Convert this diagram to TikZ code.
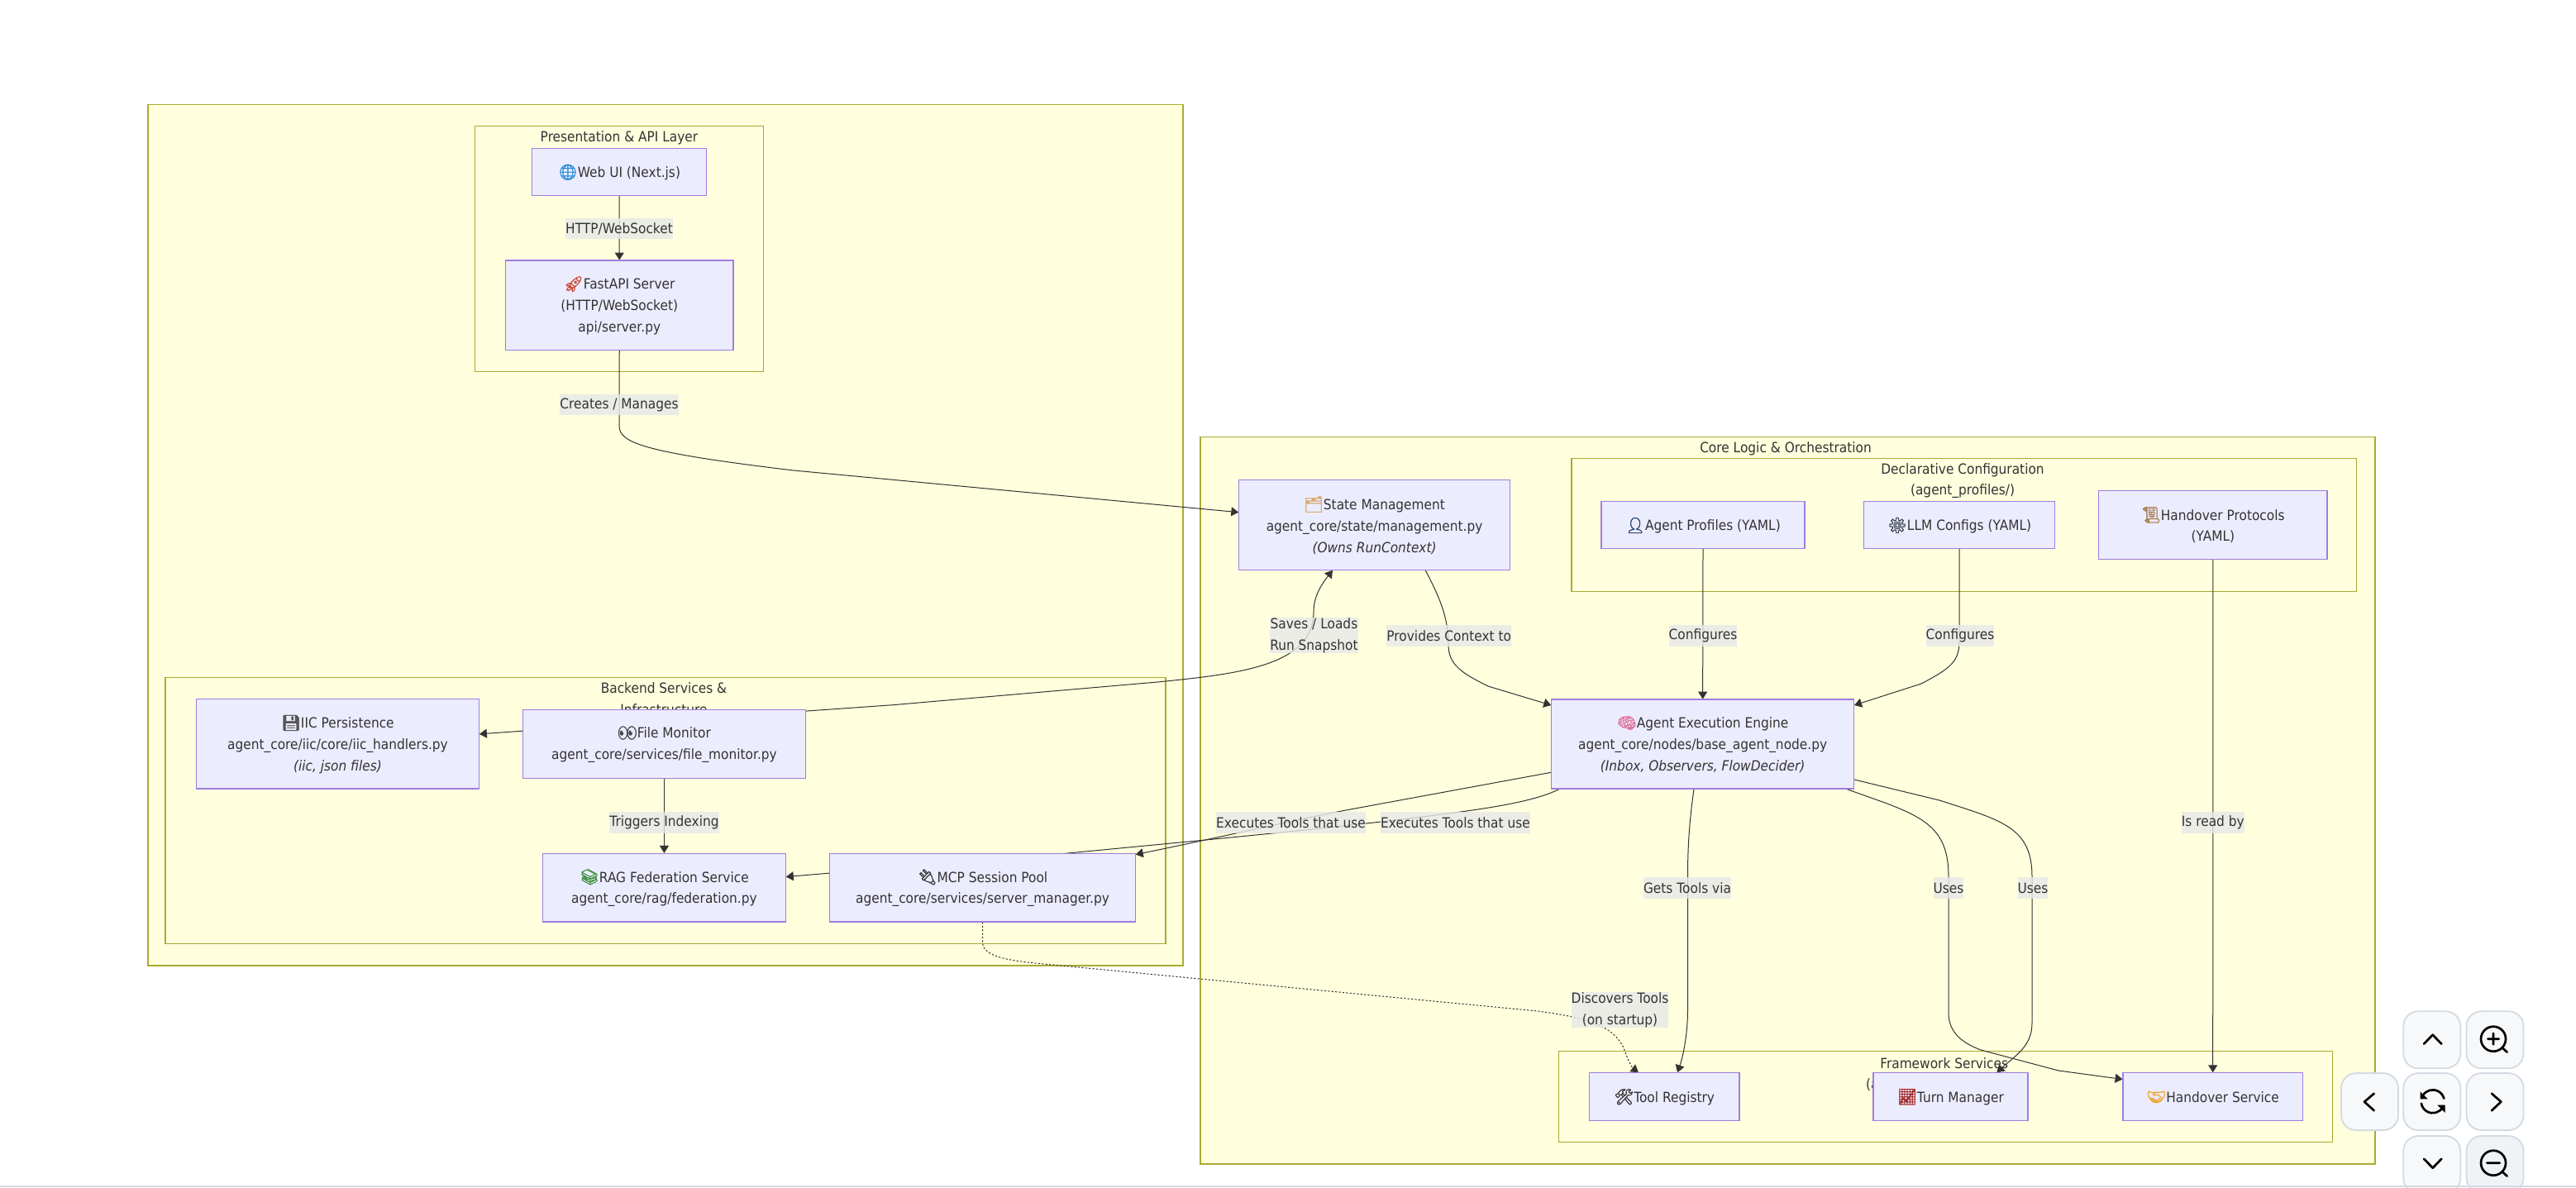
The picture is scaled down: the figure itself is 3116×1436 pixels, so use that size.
\documentclass[tikz,border=0pt]{standalone}
\usepackage{fontspec}
\setmainfont{DejaVu Sans}[FakeStretch=0.905]
\newfontfamily\emofont{Noto Emoji}[Scale=1.1,FakeBold=1.5]
\usetikzlibrary{arrows.meta,calc}
\definecolor{nodefill}{HTML}{ECECFF}
\definecolor{nodeline}{HTML}{9370DB}
\definecolor{groupfill}{HTML}{FFFFDE}
\definecolor{groupline}{HTML}{AAAA33}
\definecolor{ink}{HTML}{333333}
\definecolor{lblfill}{HTML}{E8E8E8}
\definecolor{btnfill}{HTML}{F7F8FA}
\definecolor{btnfilltwo}{HTML}{F0F3F6}
\definecolor{btnline}{HTML}{D3DAE2}
\newcommand{\emj}[2]{{\emofont\color[HTML]{#1}#2}}
\newcommand{\rectnode}[7]{%
  \pgfmathsetmacro\bxcx{(#3+#5)/2}\pgfmathsetmacro\bxcy{(#4+#6)/2}%
  \pgfmathsetmacro\bxw{(#5-#3)*0.5}\pgfmathsetmacro\bxh{(#6-#4)*0.5}%
  \pgfmathsetmacro\bxty{\bxcy+0.5}%
  \node[#1,minimum width=\bxw pt,minimum height=\bxh pt] (#2) at (\bxcx,\bxcy) {};
  \node (#2t) at (\bxcx,\bxty) {#7};}
\tikzset{
  x=0.5pt,y=-0.5pt,
  every node/.style={text=ink,font=\fontsize{8.5}{12.85}\selectfont,align=center,inner sep=0pt},
  groupbox/.style={draw=groupline,fill=groupfill,line width=.6pt},
  grouptitle/.style={},
  flowbox/.style={draw=nodeline!90!white,fill=nodefill,line width=.6pt},
  conn/.style={draw=ink,line width=.5pt,-{Triangle[length=4.5pt,width=5.5pt]}},
  dotconn/.style={conn,dash pattern=on 1.1pt off 1.1pt},
  lbl/.style={fill=lblfill,fill opacity=.8,text opacity=1,minimum height=12.6pt},
  btn/.style={draw=btnline,fill=btnfill,line width=.9pt,rounded corners=9pt,minimum width=34.5pt,minimum height=34.5pt},
  icon/.style={draw=black,line width=1.35pt,line cap=round,line join=round},
}
\begin{document}
\begin{tikzpicture}
\useasboundingbox (0,0) rectangle (3116,1436);
\fill[white] (0,0) rectangle (3116,1436);
% groups
\rectnode{groupbox}{gouter}{179}{126.3}{1431}{1168}{}
\rectnode{groupbox}{gcore}{1452}{528.3}{2873}{1408}{}
\rectnode{groupbox}{gpres}{574.3}{152.7}{923.8}{449.7}{}
\rectnode{groupbox}{gback}{200}{819.3}{1410}{1141.3}{}
\rectnode{groupbox}{gdecl}{1901}{554.3}{2850.6}{715.3}{}
\rectnode{groupbox}{gfram}{1885.5}{1271.7}{2821.7}{1381.7}{}
\node[grouptitle] (tpres) at (749,166.5) {Presentation \& API Layer};
\node[grouptitle] (tback) at (803,845) {Backend Services \&\\Infrastructure};
\node[grouptitle] (tcore) at (2160,542.3) {Core Logic \& Orchestration};
\node[grouptitle] (tdecl) at (2374,581.5) {Declarative Configuration\\(agent\_profiles/)};
\node[grouptitle] (tfram) at (2351.7,1286) {Framework Services};
\node[grouptitle,anchor=west] (tframb) at (2256.7,1312) {(a};
% nodes are named first on an invisible pass, so connectors lie under the boxes
\begin{scope}[every node/.append style={draw=none,fill=none,text opacity=0}]
\rectnode{}{ui}{643.7}{179.3}{854.4}{236.7}{}
\rectnode{}{fast}{611.5}{315}{887}{423.3}{}
\rectnode{}{iic}{237.4}{845.7}{579.5}{954}{}
\rectnode{}{fm}{632.4}{858.7}{974.5}{941.3}{}
\rectnode{}{rag}{656.5}{1032.3}{950.4}{1115}{}
\rectnode{}{mcp}{1003.8}{1032.3}{1373.3}{1115}{}
\rectnode{}{state}{1498.7}{580.7}{1826.4}{689.3}{}
\rectnode{}{prof}{1937}{606.7}{2183}{663.7}{}
\rectnode{}{llm}{2254.7}{606.7}{2485.6}{663.7}{}
\rectnode{}{proto}{2538.7}{593.3}{2815}{676.3}{}
\rectnode{}{engine}{1876.7}{846}{2242.6}{954}{}
\rectnode{}{tool}{1922.5}{1297.7}{2104}{1355.3}{}
\rectnode{}{turn}{2266}{1297.7}{2453}{1355.3}{}
\rectnode{}{hand}{2568}{1297.7}{2785.4}{1355.3}{}
\end{scope}
% connectors
\path[conn] (ui.south) -- (fast.north);
\path[conn] (fast.south) -- (749,515) .. controls (749,535) and (775,547) .. (960,569) -- ($(state.north west)!.36!(state.south west)$);
\path[conn,{Triangle[length=4.5pt,width=5.5pt]}-{Triangle[length=4.5pt,width=5.5pt]}] ($(iic.north east)!.39!(iic.south east)$) -- (1080,852.7) -- (1400,825) .. controls (1500,815) and (1589,805) .. (1589,740) .. controls (1589,720) and (1600,705) .. ($(state.south west)!.346!(state.south east)$);
\path[conn] ($(state.south west)!.6875!(state.south east)$) .. controls (1740,720) and (1752,745) .. (1752,780) .. controls (1752,805) and (1770,815) .. (1800,830) -- ($(engine.north west)!.068!(engine.south west)$);
\path[conn] (prof.south) -- (engine.north);
\path[conn] (llm.south) -- (2370,775) .. controls (2370,800) and (2360,808) .. (2324,827) -- ($(engine.north east)!.068!(engine.south east)$);
\path[conn] (proto.south) -- (hand.north);
\path[conn] (fm.south) -- (rag.north);
\path[conn] ($(engine.north west)!.815!(engine.south west)$) -- (1628,980) .. controls (1560,993) and (1480,1012) .. ($(mcp.north east)!.02!(mcp.south east)$);
\path[conn] ($(engine.south west)!.027!(engine.south east)$) .. controls (1860,968) and (1810,976) .. (1769,981.7) .. controls (1650,998) and (1500,1012) .. (1292,1032) -- ($(rag.north east)!.343!(rag.south east)$);
\path[dotconn] (mcp.south) -- (1188.5,1140) .. controls (1188.5,1158) and (1225,1162) .. (1252,1165) -- (1860,1223) .. controls (1930,1232) and (1955,1245) .. (1965,1270) .. controls (1970,1285) and (1975,1292) .. ($(tool.north west)!.328!(tool.north east)$);
\path[conn] ($(engine.south west)!.471!(engine.south east)$) .. controls (2044,990) and (2041.5,1020) .. (2041.5,1060) -- (2041.5,1220) .. controls (2041.5,1255) and (2035,1280) .. ($(tool.north west)!.587!(tool.north east)$);
\path[conn] ($(engine.south west)!.974!(engine.south east)$) -- (2280,971) .. controls (2330,990) and (2357,1005) .. (2357,1060) -- (2357,1225) .. controls (2357,1250) and (2375,1262) .. (2396,1270) -- (2490,1295) -- ($(hand.north west)!.14!(hand.south west)$);
\path[conn] ($(engine.north east)!.895!(engine.south east)$) -- (2346,968) .. controls (2420,992) and (2458,1000) .. (2458,1060) -- (2458,1237) .. controls (2458,1265) and (2440,1275) .. ($(turn.north west)!.797!(turn.north east)$);
% boxes
\rectnode{flowbox}{uibox}{643.7}{179.3}{854.4}{236.7}{\emj{2A8FD6}{🌐}Web UI (Next.js)}
\rectnode{flowbox}{fastbox}{611.5}{315}{887}{423.3}{\emj{C8452F}{🚀}FastAPI Server\\(HTTP/WebSocket)\\api/server.py}
\rectnode{flowbox}{iicbox}{237.4}{845.7}{579.5}{954}{\emj{555555}{💾}IIC Persistence\\agent\_core/iic/core/iic\_handlers.py\\\textit{(iic, json files)}}
\rectnode{flowbox}{fmbox}{632.4}{858.7}{974.5}{941.3}{\emj{444444}{👀}File Monitor\\agent\_core/services/file\_monitor.py}
\rectnode{flowbox}{ragbox}{656.5}{1032.3}{950.4}{1115}{\emj{3F8F3F}{📚}RAG Federation Service\\agent\_core/rag/federation.py}
\rectnode{flowbox}{mcpbox}{1003.8}{1032.3}{1373.3}{1115}{\emj{333333}{🔌}MCP Session Pool\\agent\_core/services/server\_manager.py}
\rectnode{flowbox}{statebox}{1498.7}{580.7}{1826.4}{689.3}{\emj{D9A566}{🗂}State Management\\agent\_core/state/management.py\\\textit{(Owns RunContext)}}
\rectnode{flowbox}{profbox}{1937}{606.7}{2183}{663.7}{\emj{1F3A68}{👤}Agent Profiles (YAML)}
\rectnode{flowbox}{llmbox}{2254.7}{606.7}{2485.6}{663.7}{\emj{3C4650}{⚙}LLM Configs (YAML)}
\rectnode{flowbox}{protobox}{2538.7}{593.3}{2815}{676.3}{\emj{A87D50}{📜}Handover Protocols\\(YAML)}
\rectnode{flowbox}{enginebox}{1876.7}{846}{2242.6}{954}{\emj{DE6F94}{🧠}Agent Execution Engine\\agent\_core/nodes/base\_agent\_node.py\\\textit{(Inbox, Observers, FlowDecider)}}
\rectnode{flowbox}{toolbox}{1922.5}{1297.7}{2104}{1355.3}{\emj{333333}{🛠}Tool Registry}
\rectnode{flowbox}{turnbox}{2266}{1297.7}{2453}{1355.3}{\emj{A02020}{📈}Turn Manager}
\rectnode{flowbox}{handbox}{2568}{1297.7}{2785.4}{1355.3}{\emj{F0A020}{🤝}Handover Service}
% labels
\node[lbl] (l1) at (749,276.5) {HTTP/WebSocket};
\node[lbl] (l2) at (749,489.5) {Creates / Manages};
\node[lbl] (l3) at (1589.4,768.5) {Saves / Loads\\Run Snapshot};
\node[lbl] (l4) at (1752.7,769) {Provides Context to};
\node[lbl] (l5) at (2060,769) {Configures};
\node[lbl] (l6) at (2371,769) {Configures};
\node[lbl] (l7) at (803.5,995) {Triggers Indexing};
\node[lbl] (l8) at (1561.5,995) {Executes Tools that use};
\node[lbl] (l9) at (1760.5,995) {Executes Tools that use};
\node[lbl] (l10) at (2676.8,995) {Is read by};
\node[lbl] (l11) at (2041,1074) {Gets Tools via};
\node[lbl] (l12) at (2357,1074) {Uses};
\node[lbl] (l13) at (2459,1074) {Uses};
\node[lbl] (l14) at (1959.5,1221.5) {Discovers Tools\\(on startup)};
% viewer buttons
\node[btn] (bup) at (2941.7,1257.8) {};
\node[btn] (bzin) at (3018,1257.8) {};
\node[btn] (bleft) at (2866.5,1332.6) {};
\node[btn] (breload) at (2941.7,1332.6) {};
\node[btn] (bright) at (3018,1332.6) {};
\node[btn] (bdown) at (2941.7,1408.6) {};
\node[btn,fill=btnfilltwo] (bzout) at (3018,1408.6) {};
\draw[icon] (2932,1262.7) -- (2942.7,1251.7) -- (2953.3,1262.7);
\draw[icon] (2871.7,1322.7) -- (2860,1332.7) -- (2871.7,1343.3);
\draw[icon] (3014,1322.7) -- (3025.3,1332.7) -- (3014,1343.3);
\draw[icon] (2932,1401.7) -- (2942.7,1412.7) -- (2953.3,1401.7);
\draw[icon] (3016,1256.7) circle[radius=15];
\draw[icon] (3016,1250) -- (3016,1263.4) (3009.3,1256.7) -- (3022.7,1256.7) (3026.7,1267.3) -- (3032.7,1272.7);
\draw[icon] (3016,1406.7) circle[radius=15];
\draw[icon] (3008.3,1406.7) -- (3023.7,1406.7) (3026.7,1417.3) -- (3032.7,1422.7);
\draw[icon] (2930.6,1325.3) arc[start angle=210,end angle=345,radius=14];
\draw[icon] (2954.8,1339.3) arc[start angle=30,end angle=170,radius=14];
\fill[black] (2927.7,1320.7) -- (2927.7,1329.3) -- (2936.7,1329.3) -- cycle;
\fill[black] (2957.7,1336.7) -- (2957.7,1346) -- (2948.3,1336.7) -- cycle;
\fill[btnline] (0,1434) rectangle (3116,1436);
\end{tikzpicture}
\end{document}
